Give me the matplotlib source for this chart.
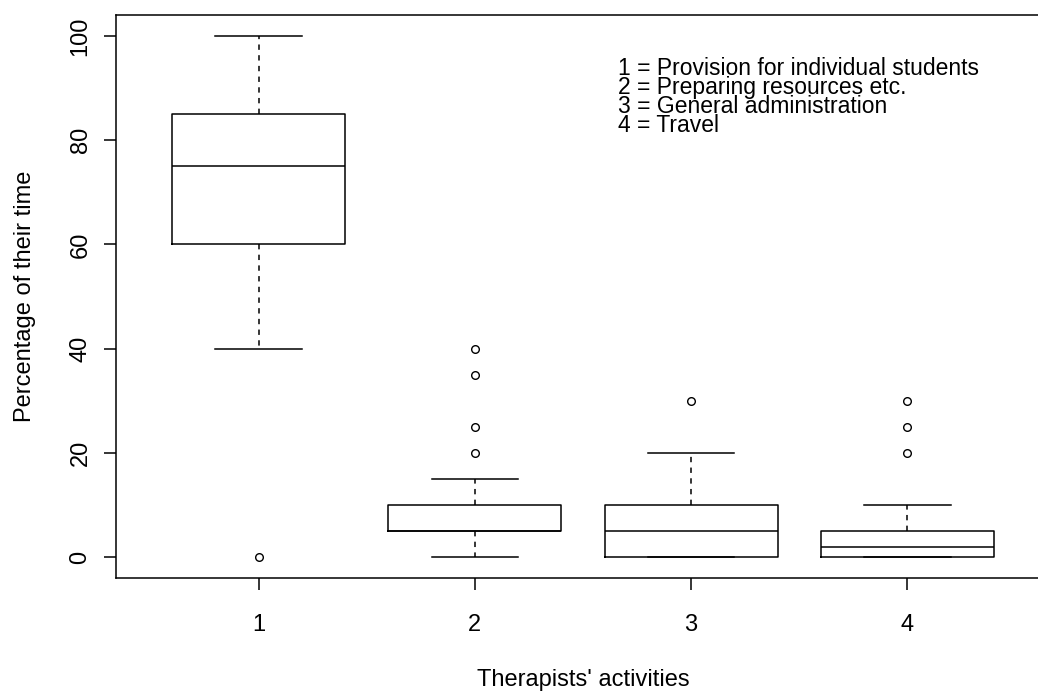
import matplotlib
matplotlib.use("Agg")
import matplotlib.pyplot as plt

plt.rcParams['font.family'] = ['Liberation Sans', 'DejaVu Sans']

# Box statistics (percent of time)
activities = ["1", "2", "3", "4"]
q1 = [60, 5, 0, 0]
medians = [75, 5, 5, 2]
q3 = [85, 10, 10, 5]
whisker_low = [40, 0, 0, 0]
whisker_high = [100, 15, 20, 10]
outliers = [[0], [20, 25, 35, 40], [30], [20, 25, 30]]

legend_lines = ["1 = Provision for individual students",
                "2 = Preparing resources etc.",
                "3 = General administration",
                "4 = Travel"]

stats = []
for i in range(len(activities)):
    stats.append({'label': activities[i], 'q1': q1[i], 'med': medians[i], 'q3': q3[i],
                  'whislo': whisker_low[i], 'whishi': whisker_high[i], 'fliers': outliers[i]})

fig = plt.figure(figsize=(10.38, 6.93), dpi=100)
# right edge of the plot region lies outside the image, as in the original
ax = fig.add_axes([116 / 1038, 115 / 693, (1050 - 116) / 1038, 563 / 693])

ax.bxp(stats, positions=[1, 2, 3, 4], widths=0.8, capwidths=0.4,
       boxprops=dict(color='black', linewidth=1.1),
       medianprops=dict(color='black', linewidth=1.1),
       whiskerprops=dict(color='black', linewidth=1.1, linestyle=(0, (3.5, 3.5))),
       capprops=dict(color='black', linewidth=1.1),
       flierprops=dict(marker='o', markerfacecolor='none', markeredgecolor='black',
                       markersize=5.5, markeredgewidth=1.0))

ax.set_xlim(0.34, 4.66)
ax.set_ylim(-4, 104)
ax.set_yticks([0, 20, 40, 60, 80, 100])
ax.set_xticks([1, 2, 3, 4])
ax.set_xticklabels(activities)

for s in ax.spines.values():
    s.set_linewidth(1.1)
    s.set_color('black')

ax.tick_params(axis='both', direction='out', length=8.6, width=1.1, labelsize=17, color='black')
ax.tick_params(axis='x', pad=17.5)
ax.tick_params(axis='y', pad=9)
for lab in ax.get_yticklabels():
    lab.set_rotation(90)
    lab.set_va('center')

ax.set_xlabel("Therapists' activities", fontsize=17, labelpad=23.5)
ax.set_ylabel("Percentage of their time", fontsize=17, labelpad=24.5)

# text block listing what each activity number means
ax.text(2.66, 95.9, "\n".join(legend_lines), fontsize=16.5, ha='left', va='top',
        linespacing=0.78)

fig.savefig("out.png", dpi=100)
